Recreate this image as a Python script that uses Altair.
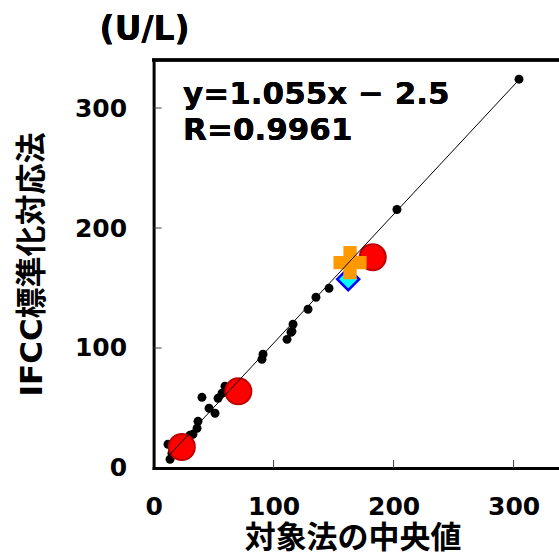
import altair as alt
import pandas as pd

# ---- data ----
black_x = [304.5, 202.8, 146.2, 135.3, 128.7, 116.2, 115.3, 114.5, 111.2, 91.2, 90.3,
           59.5, 57.0, 53.7, 40.3, 46.2, 51.2, 37.0, 36.2, 32.8, 30.3, 12.0, 13.7, 15.3, 18.7, 27.0]
black_y = [324.0, 215.4, 149.8, 142.3, 132.3, 119.8, 113.9, 113.1, 107.2, 94.8, 90.6,
           68.1, 62.3, 58.1, 58.9, 49.8, 45.6, 38.9, 33.1, 28.1, 27.3, 19.8, 7.3, 12.3, 22.2, 24.0]
red_x = [23.5, 70.6, 182.6]
red_y = [17.5, 63.9, 175.6]
diamond_x = [162.2]
diamond_y = [157.3]
plus_x = [163.7]
plus_y = [171.1]
line_x = [11.0, 304.5]
line_y = [8.5, 323.5]
tick_vals = [0, 100, 200, 300]
inner_ticks = [100, 200, 300]
eq_lines = ["y=1.055x \u2212 2.5", "R=0.9961"]
unit_label = "(U/L)"
x_title = "対象法の中央値"
y_title = "IFCC標準化対応法"

W, H = 405, 408
XMAX, YMAX = 337.5, 340

FONT = "DejaVu Sans, Noto Sans CJK JP"

xscale = alt.Scale(domain=[0, XMAX], nice=False, zero=True)
yscale = alt.Scale(domain=[0, YMAX], nice=False, zero=True)

xaxis = alt.Axis(values=tick_vals, title=x_title, ticks=False, grid=False,
                 domainWidth=3, domainColor="black", domainCap="square",
                 labelFont=FONT, labelFontSize=25, labelFontWeight="bold", labelColor="black",
                 labelPadding=27, labelFlush=False,
                 titleFont=FONT, titleFontSize=31, titleFontWeight="bold", titleColor="black",
                 titleX=199, titleY=71, titleBaseline="middle", titleAlign="center")
yaxis = alt.Axis(values=tick_vals, title=y_title, ticks=False, grid=False,
                 domainWidth=3, domainColor="black", domainCap="square",
                 labelFont=FONT, labelFontSize=25, labelFontWeight="bold", labelColor="black",
                 labelPadding=27, labelFlush=False,
                 titleFont=FONT, titleFontSize=31, titleFontWeight="bold", titleColor="black",
                 titleX=-120.6, titleY=H / 2, titleAngle=-90, titleBaseline="middle", titleAlign="center")

black_df = pd.DataFrame({"x": black_x, "y": black_y})
red_df = pd.DataFrame({"x": red_x, "y": red_y})
dia_df = pd.DataFrame({"x": diamond_x, "y": diamond_y})
plus_df = pd.DataFrame({"x": plus_x, "y": plus_y})
line_df = pd.DataFrame({"x": line_x, "y": line_y})
tick_df = pd.DataFrame({"v": inner_ticks})

X = lambda: alt.X("x:Q", scale=xscale, axis=xaxis)
Y = lambda: alt.Y("y:Q", scale=yscale, axis=yaxis)

black = alt.Chart(black_df).mark_circle(size=80, color="black", opacity=1).encode(x=X(), y=Y())
red = alt.Chart(red_df).mark_point(shape="circle", filled=True, size=680, fill="#FF0000",
                                   stroke="#C00000", strokeWidth=2, opacity=1).encode(x=X(), y=Y())
dia = alt.Chart(dia_df).mark_point(shape="diamond", filled=True, size=480, fill="#00FFFF",
                                   stroke="#0000FF", strokeWidth=2.5, opacity=1).encode(x=X(), y=Y())
plus = alt.Chart(plus_df).mark_point(shape="cross", filled=True, size=1100, fill="#FF9900",
                                     strokeWidth=0, opacity=1).encode(x=X(), y=Y())
line = alt.Chart(line_df).mark_line(color="black", strokeWidth=1).encode(x=X(), y=Y())

xt = alt.Chart(tick_df).mark_rule(color="#404040", strokeWidth=1).encode(
    x=alt.X("v:Q", scale=xscale, axis=xaxis), y=alt.value(H), y2=alt.value(H - 8))
yt = alt.Chart(tick_df).mark_rule(color="#404040", strokeWidth=1).encode(
    y=alt.Y("v:Q", scale=yscale, axis=yaxis), x=alt.value(0), x2=alt.value(8))

top_border = alt.Chart(tick_df).mark_rule(color="black", strokeWidth=3).encode(
    x=alt.value(-1.5), x2=alt.value(W + 5), y=alt.value(0))

eq = alt.Chart(tick_df).mark_text(text=eq_lines, align="left", baseline="alphabetic",
                                  font=FONT, fontSize=31, fontWeight="bold", color="black",
                                  lineHeight=36).encode(x=alt.value(29.5), y=alt.value(44))
unit = alt.Chart(tick_df).mark_text(text=unit_label, align="left", baseline="alphabetic",
                                    font=FONT, fontSize=33, fontWeight="bold", color="black"
                                    ).encode(x=alt.value(-54), y=alt.value(-20))

chart = alt.layer(xt, yt, black, red, dia, plus, line, top_border, eq, unit).properties(
    width=W, height=H,
    autosize=alt.AutoSizeParams(type="none"),
    padding={"left": 153.6, "top": 60, "right": 0, "bottom": 556 - 60 - H},
).configure_view(stroke=None)

chart.save("out.html", embed_options={"renderer": "svg", "actions": False})
